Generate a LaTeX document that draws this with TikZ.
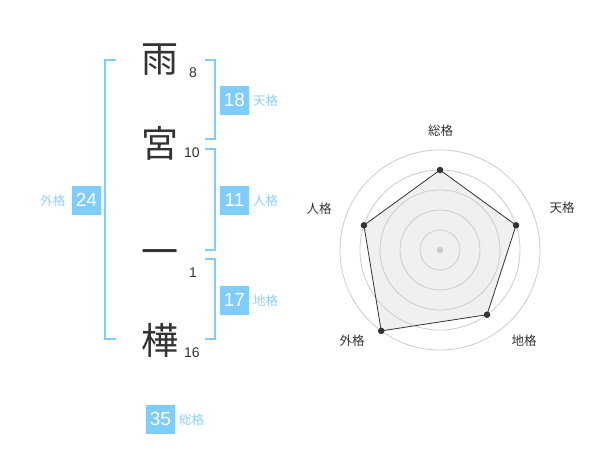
\documentclass[tikz,border=0pt]{standalone}
\usepackage{fontspec}
\usetikzlibrary{calc}
\setmainfont{Liberation Sans}
\newfontfamily\jp{Noto Sans CJK JP}
\definecolor{boxblue}{HTML}{7FCCFF}
\definecolor{lblblue}{HTML}{8ED0F8}
\definecolor{ink}{HTML}{333333}
\definecolor{ringgray}{HTML}{CCCCCC}
\definecolor{polyfill}{HTML}{F0F0F0}
\tikzset{
  kanji/.style={font=\jp\fontsize{37}{37}\selectfont, text=ink, inner sep=0pt},
  strokes/.style={font=\fontsize{14}{14}\selectfont, text=ink, inner sep=0pt},
  scorebox/.style={fill=boxblue, text=white, minimum size=29pt, inner sep=0pt, font=\fontsize{19}{19}\selectfont},
  kaku/.style={font=\jp\fontsize{12.5}{12.5}\selectfont, text=lblblue, inner sep=0pt},
  bracket/.style={draw=boxblue, line width=2pt},
  ring/.style={draw=ringgray, line width=0.8pt},
  axislbl/.style={font=\jp\fontsize{12.5}{12.5}\selectfont, text=ink, inner sep=0pt},
  dot/.style={circle, fill=ink, inner sep=0pt, minimum size=6.5pt},
}
\begin{document}
\begin{tikzpicture}[x=1pt,y=-1pt]
\useasboundingbox (0,0) rectangle (600,470);
% characters
\node[kanji] (c1) at (160,60) {雨};
\node[kanji] (c2) at (160,143) {宮};
\node[kanji] (c3) at (160,258) {一};
\node[kanji] (c4) at (160,340) {樺};
\node[strokes] (n1) at (193,73) {8};
\node[strokes] (n2) at (192,153) {10};
\node[strokes] (n3) at (193,273) {1};
\node[strokes] (n4) at (192,353) {16};
% brackets
\draw[bracket] (116,60) -- (105,60) -- (105,339.5) -- (116,339.5);
\draw[bracket] (205,60) -- (214.5,60) -- (214.5,139.5) -- (205,139.5);
\draw[bracket] (205,149.5) -- (214.5,149.5) -- (214.5,250) -- (205,250);
\draw[bracket] (205,259.5) -- (214.5,259.5) -- (214.5,339.5) -- (205,339.5);
% score boxes
\node[scorebox] (ten) at (234.5,100.3) {18};
\node[kaku, anchor=west] (tenl) at (253,100.5) {天格};
\node[scorebox] (jin) at (234.5,200.3) {11};
\node[kaku, anchor=west] (jinl) at (253,200.5) {人格};
\node[scorebox] (chi) at (234.5,300.3) {17};
\node[kaku, anchor=west] (chil) at (253,300.5) {地格};
\node[scorebox] (gai) at (86.5,200.3) {24};
\node[kaku, anchor=east] (gail) at (65.5,200.5) {外格};
\node[scorebox] (sou) at (160.5,419.2) {35};
\node[kaku, anchor=west] (soul) at (179,419.5) {総格};
% radar
\coordinate (O) at (440,250);
\coordinate (pS) at ($(O)+(-90:80)$);
\coordinate (pT) at ($(O)+(-18:80)$);
\coordinate (pC) at ($(O)+(54:80)$);
\coordinate (pG) at ($(O)+(126:100)$);
\coordinate (pJ) at ($(O)+(-162:80)$);
\fill[polyfill] (pS) -- (pT) -- (pC) -- (pG) -- (pJ) -- cycle;
\foreach \r in {20,40,60,80,100} \draw[ring] (O) circle[radius=\r];
\fill[ringgray] (O) circle[radius=3.3];
\draw[ink, line width=0.8pt] (pS) -- (pT) -- (pC) -- (pG) -- (pJ) -- cycle;
\foreach \p in {pS,pT,pC,pG,pJ} \node[dot] at (\p) {};
\node[axislbl] (aS) at (440.5,130.5) {総格};
\node[axislbl] (aT) at (562,208) {天格};
\node[axislbl] (aC) at (524,341) {地格};
\node[axislbl] (aG) at (352,341) {外格};
\node[axislbl] (aJ) at (319,208.5) {人格};
\end{tikzpicture}
\end{document}
